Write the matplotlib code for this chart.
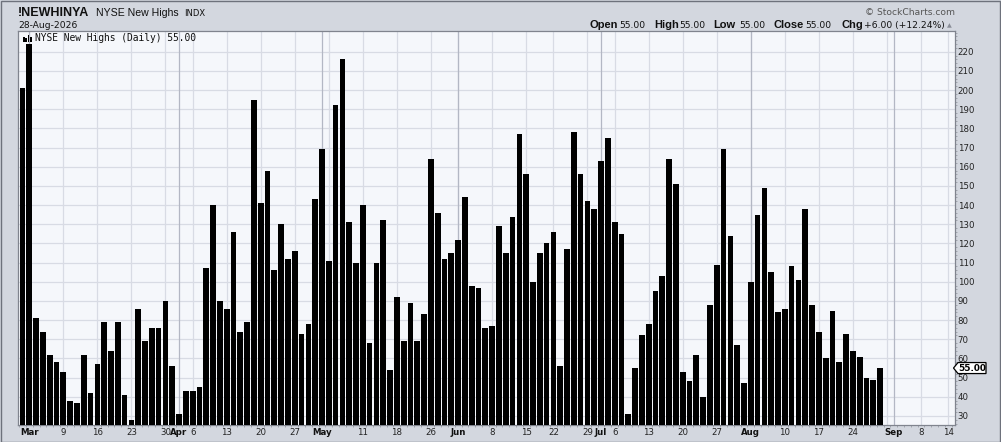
import matplotlib
matplotlib.use("Agg")
import matplotlib.pyplot as plt
import numpy as np
import pandas as pd
from matplotlib.patches import Rectangle, Polygon
from matplotlib.transforms import IdentityTransform

# ---------------- data ----------------
first_date = "2026-02-27"
last_axis_date = "2026-09-30"
holidays = ["2026-04-03", "2026-05-25", "2026-06-19", "2026-07-03", "2026-09-07"]

new_highs = [
    201, 224, 81, 74, 62, 58, 53, 38, 37, 62, 42, 57, 79, 64, 79, 41, 28, 86, 69, 76,
    76, 90, 56, 31, 43, 43, 45, 107, 140, 90, 86, 126, 74, 79, 195, 141, 158, 106, 130, 112,
    116, 73, 78, 143, 169, 111, 192, 216, 131, 110, 140, 68, 110, 132, 54, 92, 69, 89, 69, 83,
    164, 136, 112, 115, 122, 144, 98, 97, 76, 77, 129, 115, 134, 177, 156, 100, 115, 120, 126, 56,
    117, 178, 156, 142, 138, 163, 175, 131, 125, 31, 55, 72, 78, 95, 103, 164, 151, 53, 48, 62,
    40, 88, 109, 169, 124, 67, 47, 100, 135, 149, 105, 84, 86, 108, 101, 138, 88, 74, 60, 85,
    58, 73, 64, 61, 50, 49, 55,
]

tick_dates = ["2026-03-02", "2026-03-09", "2026-03-16", "2026-03-23", "2026-03-30",
              "2026-04-01", "2026-04-06", "2026-04-13", "2026-04-20", "2026-04-27",
              "2026-05-01", "2026-05-11", "2026-05-18", "2026-05-26",
              "2026-06-01", "2026-06-08", "2026-06-15", "2026-06-22", "2026-06-29",
              "2026-07-01", "2026-07-06", "2026-07-13", "2026-07-20", "2026-07-27",
              "2026-08-03", "2026-08-10", "2026-08-17", "2026-08-24",
              "2026-09-01", "2026-09-08", "2026-09-14"]
tick_labels = ["Mar", "9", "16", "23", "30", "Apr", "6", "13", "20", "27",
               "May", "11", "18", "26", "Jun", "8", "15", "22", "29",
               "Jul", "6", "13", "20", "27", "Aug", "10", "17", "24", "Sep", "8", "14"]
month_labels = ["Mar", "Apr", "May", "Jun", "Jul", "Aug", "Sep"]

week_lines = ["2026-03-02", "2026-03-09", "2026-03-16", "2026-03-23", "2026-03-30",
              "2026-04-06", "2026-04-13", "2026-04-20", "2026-04-27", "2026-05-04",
              "2026-05-11", "2026-05-18", "2026-05-26", "2026-06-01", "2026-06-08",
              "2026-06-15", "2026-06-22", "2026-06-29", "2026-07-06", "2026-07-13",
              "2026-07-20", "2026-07-27", "2026-08-03", "2026-08-10", "2026-08-17",
              "2026-08-24", "2026-08-31", "2026-09-08", "2026-09-14"]
month_lines = ["2026-03-02", "2026-04-01", "2026-05-01", "2026-06-01", "2026-07-01",
               "2026-08-03", "2026-09-01"]

y_ticks = list(range(30, 221, 10))

# ---------------- figure ----------------
W, H = 1001, 442
BG = "#d3d7df"
PLOT_BG = "#f5f7fb"
fig = plt.figure(figsize=(W / 100, H / 100), dpi=100, facecolor=BG)
ax = fig.add_axes([18 / W, 1 - 425 / H, 937 / W, 394 / H])
ax.set_facecolor(PLOT_BG)

dates = pd.bdate_range(first_date, last_axis_date, freq="C", holidays=holidays)
pos = {d.strftime("%Y-%m-%d"): i for i, d in enumerate(dates)}

ymin, ymax = 25.3, 230.8
x = np.arange(len(new_highs))
vals = np.array(new_highs, dtype=float)
ax.bar(x, vals - ymin, bottom=ymin, width=0.84, color="black", zorder=3, linewidth=0)

ax.set_xlim(-0.66, 137.0)
ax.set_ylim(ymin, ymax)

# grid
for v in y_ticks:
    ax.axhline(v, color="#d8dbe4", lw=0.9, zorder=1)
for d in week_lines:
    ax.axvline(pos[d], color="#d8dbe4", lw=0.9, zorder=1)
for d in month_lines:
    ax.axvline(pos[d], color="#b3b7c4", lw=0.9, zorder=1.5)

# x ticks
ax.set_xticks([pos[d] for d in tick_dates])
ax.set_xticklabels(tick_labels)
for t in ax.get_xticklabels():
    t.set_fontsize(6.2)
    t.set_color("#222222")
    if t.get_text() in month_labels:
        t.set_fontweight("bold")
        t.set_color("#111111")
ax.tick_params(axis="x", which="major", length=0, pad=2.5)
ax.set_xticks(np.arange(-0.5, 137, 1), minor=True)
ax.tick_params(axis="x", which="minor", length=1.5, color="#9a9ea8", width=0.6)

# y ticks on right
ax.yaxis.tick_right()
ax.set_yticks(y_ticks)
ax.set_yticklabels([str(v) for v in y_ticks], fontsize=6.2, color="#222222")
ax.tick_params(axis="y", which="major", length=0, pad=2)
ax.set_yticks(np.arange(26, 231, 2), minor=True)
ax.tick_params(axis="y", which="minor", length=1.2, color="#9a9ea8", width=0.6, left=False, right=True)

for s in ax.spines.values():
    s.set_color("#80848e")
    s.set_linewidth(0.9)

# ---------------- texts ----------------
def ft(xp, yp, s, **kw):
    fig.text(xp / W, 1 - yp / H, s, **kw)

ft(18, 13, "!NEWHINYA", fontsize=9, fontweight="bold", family="Liberation Sans",
   va="center", ha="left", color="#111111")
ft(95.5, 13, "NYSE New Highs", fontsize=7.6, family="Liberation Sans",
   va="center", ha="left", color="#111111")
ft(184, 13.5, "INDX", fontsize=6, family="DejaVu Sans", va="center", ha="left", color="#111111")
ft(18, 25.5, "28-Aug-2026", fontsize=6.6, family="DejaVu Sans", va="center", ha="left", color="#111111")
ft(955, 12.5, "\u00a9 StockCharts.com", fontsize=6.6, family="DejaVu Sans",
   va="center", ha="right", color="#555555")

ohlc = [(589, "Open", True), (619, "55.00", False), (654, "High", True), (679, "55.00", False),
        (713, "Low", True), (739, "55.00", False), (773, "Close", True), (805, "55.00", False),
        (841, "Chg", True), (864, "+6.00 (+12.24%)", False)]
for xp, s, b in ohlc:
    if b:
        ft(xp, 25.5, s, fontsize=8, fontweight="bold", family="Liberation Sans",
           va="center", ha="left", color="#111111")
    else:
        ft(xp, 25.5, s, fontsize=6.6, family="DejaVu Sans", va="center", ha="left", color="#111111")
ft(947, 25.5, "\u25b2", fontsize=4.5, family="DejaVu Sans", va="center", ha="left", color="#8a8e98")

# legend inside plot
ax.text(35 / W * 0 + (35 - 18) / 937, 1 - (37.7 - 31) / 394, "NYSE New Highs (Daily) 55.00",
        transform=ax.transAxes, fontsize=6.9, family="DejaVu Sans Mono", va="center", ha="left",
        color="#111111", zorder=5)
for bx, bh in [(23, 4.5), (25.3, 3.2), (27.6, 6.5), (29.9, 5.0)]:
    fig.add_artist(Rectangle((bx / W, 1 - 41.5 / H), 1.6 / W, bh / H,
                             transform=fig.transFigure, facecolor="black", edgecolor="none"))

# last value tag
yd = ax.transData.transform((0, new_highs[-1]))[1]
xr = ax.transAxes.transform((1, 0))[0]
tag = Polygon([(xr - 1.5, yd), (xr + 3, yd + 5.5), (xr + 31, yd + 5.5), (xr + 31, yd - 5.5),
               (xr + 3, yd - 5.5)], closed=True, transform=IdentityTransform(),
              facecolor="white", edgecolor="black", lw=0.9, zorder=10)
fig.add_artist(tag)
fig.text((xr + 17) / W, yd / H, "%.2f" % new_highs[-1], fontsize=6.4, fontweight="bold",
         family="DejaVu Sans", ha="center", va="center", color="black", zorder=11)

# outer frame
fig.add_artist(Rectangle((0.5 / W, 0.5 / H), (W - 1.5) / W, (H - 1.5) / H,
                         transform=fig.transFigure, facecolor="none", edgecolor="#6e727c", lw=1))

fig.savefig("out.png", dpi=100, facecolor=BG)
